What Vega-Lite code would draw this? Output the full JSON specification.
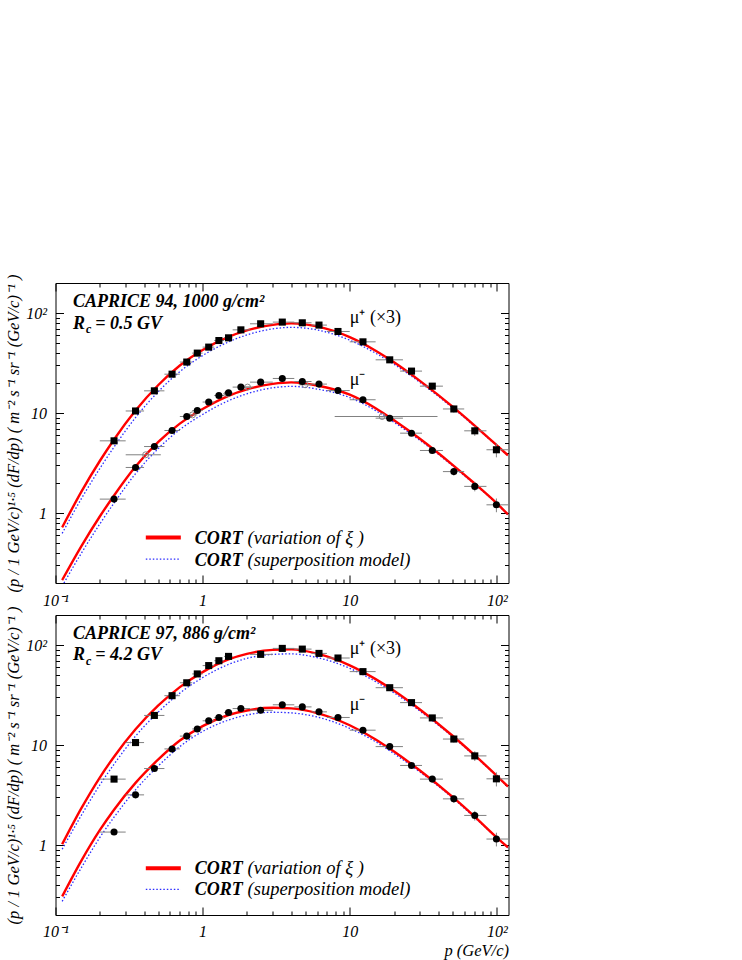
{
  "$schema": "https://vega.github.io/schema/vega-lite/v6.json",
  "padding": {"left": 4.5, "top": 271, "right": 5, "bottom": 5},
  "background": "white",
  "bounds": "flush",
  "spacing": 32,
  "config": {
    "view": {"stroke": "black", "strokeWidth": 1},
    "font": "Liberation Serif",
    "axis": {
      "domain": false, "grid": false, "tickColor": "black", "tickWidth": 1,
      "labelColor": "black", "labelFont": "Liberation Serif", "labelFontStyle": "italic", "labelFontSize": 16,
      "labelFlush": false, "labelOverlap": false, "labelBound": false,
      "titleFont": "Liberation Serif", "titleFontStyle": "italic", "titleFontWeight": "normal", "titleFontSize": 16.5, "titleColor": "black"
    }
  },
  "datasets": {
    "curves": [
      {"panel":"top","model":"red","series":"plus","p":0.111,"v":0.72},{"panel":"top","model":"red","series":"plus","p":0.15,"v":1.64},{"panel":"top","model":"red","series":"plus","p":0.2,"v":3.32},{"panel":"top","model":"red","series":"plus","p":0.25,"v":5.45},{"panel":"top","model":"red","series":"plus","p":0.35,"v":10.6},{"panel":"top","model":"red","series":"plus","p":0.5,"v":19.1},{"panel":"top","model":"red","series":"plus","p":0.7,"v":29.9},{"panel":"top","model":"red","series":"plus","p":1,"v":42.7},{"panel":"top","model":"red","series":"plus","p":1.5,"v":57.8},{"panel":"top","model":"red","series":"plus","p":2,"v":67.1},{"panel":"top","model":"red","series":"plus","p":3,"v":76.2},{"panel":"top","model":"red","series":"plus","p":4,"v":78.9},{"panel":"top","model":"red","series":"plus","p":6,"v":73.6},{"panel":"top","model":"red","series":"plus","p":10,"v":57.5},{"panel":"top","model":"red","series":"plus","p":15,"v":42.1},{"panel":"top","model":"red","series":"plus","p":20,"v":32.2},{"panel":"top","model":"red","series":"plus","p":30,"v":21.0},{"panel":"top","model":"red","series":"plus","p":50,"v":11.6},{"panel":"top","model":"red","series":"plus","p":70,"v":7.59},{"panel":"top","model":"red","series":"plus","p":100,"v":4.76},{"panel":"top","model":"red","series":"plus","p":119,"v":3.78},
      {"panel":"top","model":"blue","series":"plus","p":0.111,"v":0.627},{"panel":"top","model":"blue","series":"plus","p":0.15,"v":1.396},{"panel":"top","model":"blue","series":"plus","p":0.2,"v":2.79},{"panel":"top","model":"blue","series":"plus","p":0.25,"v":4.58},{"panel":"top","model":"blue","series":"plus","p":0.35,"v":9.02},{"panel":"top","model":"blue","series":"plus","p":0.5,"v":16.4},{"panel":"top","model":"blue","series":"plus","p":0.7,"v":26.0},{"panel":"top","model":"blue","series":"plus","p":1,"v":37.6},{"panel":"top","model":"blue","series":"plus","p":1.5,"v":51.5},{"panel":"top","model":"blue","series":"plus","p":2,"v":60.5},{"panel":"top","model":"blue","series":"plus","p":3,"v":69.5},{"panel":"top","model":"blue","series":"plus","p":4,"v":72.0},{"panel":"top","model":"blue","series":"plus","p":6,"v":67.9},{"panel":"top","model":"blue","series":"plus","p":10,"v":53.6},{"panel":"top","model":"blue","series":"plus","p":15,"v":39.7},{"panel":"top","model":"blue","series":"plus","p":20,"v":30.8},{"panel":"top","model":"blue","series":"plus","p":30,"v":20.3},{"panel":"top","model":"blue","series":"plus","p":50,"v":11.3},{"panel":"top","model":"blue","series":"plus","p":70,"v":7.45},{"panel":"top","model":"blue","series":"plus","p":100,"v":4.71},{"panel":"top","model":"blue","series":"plus","p":119,"v":3.74},
      {"panel":"top","model":"red","series":"minus","p":0.111,"v":0.214},{"panel":"top","model":"red","series":"minus","p":0.15,"v":0.468},{"panel":"top","model":"red","series":"minus","p":0.2,"v":0.925},{"panel":"top","model":"red","series":"minus","p":0.25,"v":1.5},{"panel":"top","model":"red","series":"minus","p":0.35,"v":2.92},{"panel":"top","model":"red","series":"minus","p":0.5,"v":5.15},{"panel":"top","model":"red","series":"minus","p":0.7,"v":7.85},{"panel":"top","model":"red","series":"minus","p":1,"v":11.0},{"panel":"top","model":"red","series":"minus","p":1.5,"v":14.9},{"panel":"top","model":"red","series":"minus","p":2,"v":17.3},{"panel":"top","model":"red","series":"minus","p":3,"v":19.6},{"panel":"top","model":"red","series":"minus","p":4,"v":20.3},{"panel":"top","model":"red","series":"minus","p":6,"v":18.9},{"panel":"top","model":"red","series":"minus","p":10,"v":15.3},{"panel":"top","model":"red","series":"minus","p":15,"v":11.2},{"panel":"top","model":"red","series":"minus","p":20,"v":8.47},{"panel":"top","model":"red","series":"minus","p":30,"v":5.53},{"panel":"top","model":"red","series":"minus","p":50,"v":3.04},{"panel":"top","model":"red","series":"minus","p":70,"v":2.0},{"panel":"top","model":"red","series":"minus","p":100,"v":1.25},{"panel":"top","model":"red","series":"minus","p":119,"v":0.97},
      {"panel":"top","model":"blue","series":"minus","p":0.111,"v":0.186},{"panel":"top","model":"blue","series":"minus","p":0.15,"v":0.398},{"panel":"top","model":"blue","series":"minus","p":0.2,"v":0.778},{"panel":"top","model":"blue","series":"minus","p":0.25,"v":1.26},{"panel":"top","model":"blue","series":"minus","p":0.35,"v":2.48},{"panel":"top","model":"blue","series":"minus","p":0.5,"v":4.43},{"panel":"top","model":"blue","series":"minus","p":0.7,"v":6.84},{"panel":"top","model":"blue","series":"minus","p":1,"v":9.69},{"panel":"top","model":"blue","series":"minus","p":1.5,"v":13.3},{"panel":"top","model":"blue","series":"minus","p":2,"v":15.6},{"panel":"top","model":"blue","series":"minus","p":3,"v":17.9},{"panel":"top","model":"blue","series":"minus","p":4,"v":18.5},{"panel":"top","model":"blue","series":"minus","p":6,"v":17.4},{"panel":"top","model":"blue","series":"minus","p":10,"v":14.3},{"panel":"top","model":"blue","series":"minus","p":15,"v":10.6},{"panel":"top","model":"blue","series":"minus","p":20,"v":8.09},{"panel":"top","model":"blue","series":"minus","p":30,"v":5.34},{"panel":"top","model":"blue","series":"minus","p":50,"v":2.97},{"panel":"top","model":"blue","series":"minus","p":70,"v":1.96},{"panel":"top","model":"blue","series":"minus","p":100,"v":1.24},{"panel":"top","model":"blue","series":"minus","p":119,"v":0.96},
      {"panel":"bottom","model":"red","series":"plus","p":0.111,"v":1.02},{"panel":"bottom","model":"red","series":"plus","p":0.15,"v":2.34},{"panel":"bottom","model":"red","series":"plus","p":0.2,"v":4.74},{"panel":"bottom","model":"red","series":"plus","p":0.25,"v":7.66},{"panel":"bottom","model":"red","series":"plus","p":0.35,"v":14.4},{"panel":"bottom","model":"red","series":"plus","p":0.5,"v":24.9},{"panel":"bottom","model":"red","series":"plus","p":0.7,"v":38.0},{"panel":"bottom","model":"red","series":"plus","p":1,"v":53.7},{"panel":"bottom","model":"red","series":"plus","p":1.5,"v":71.9},{"panel":"bottom","model":"red","series":"plus","p":2,"v":81.7},{"panel":"bottom","model":"red","series":"plus","p":3,"v":89.5},{"panel":"bottom","model":"red","series":"plus","p":4,"v":90.6},{"panel":"bottom","model":"red","series":"plus","p":6,"v":82.2},{"panel":"bottom","model":"red","series":"plus","p":10,"v":62.8},{"panel":"bottom","model":"red","series":"plus","p":15,"v":45.7},{"panel":"bottom","model":"red","series":"plus","p":20,"v":34.9},{"panel":"bottom","model":"red","series":"plus","p":30,"v":22.7},{"panel":"bottom","model":"red","series":"plus","p":50,"v":12.4},{"panel":"bottom","model":"red","series":"plus","p":70,"v":8.02},{"panel":"bottom","model":"red","series":"plus","p":100,"v":4.93},{"panel":"bottom","model":"red","series":"plus","p":119,"v":3.85},
      {"panel":"bottom","model":"blue","series":"plus","p":0.111,"v":0.909},{"panel":"bottom","model":"blue","series":"plus","p":0.15,"v":1.99},{"panel":"bottom","model":"blue","series":"plus","p":0.2,"v":3.99},{"panel":"bottom","model":"blue","series":"plus","p":0.25,"v":6.44},{"panel":"bottom","model":"blue","series":"plus","p":0.35,"v":12.3},{"panel":"bottom","model":"blue","series":"plus","p":0.5,"v":21.4},{"panel":"bottom","model":"blue","series":"plus","p":0.7,"v":33.1},{"panel":"bottom","model":"blue","series":"plus","p":1,"v":47.3},{"panel":"bottom","model":"blue","series":"plus","p":1.5,"v":64.1},{"panel":"bottom","model":"blue","series":"plus","p":2,"v":73.7},{"panel":"bottom","model":"blue","series":"plus","p":3,"v":80.7},{"panel":"bottom","model":"blue","series":"plus","p":4,"v":81.7},{"panel":"bottom","model":"blue","series":"plus","p":6,"v":75.0},{"panel":"bottom","model":"blue","series":"plus","p":10,"v":58.6},{"panel":"bottom","model":"blue","series":"plus","p":15,"v":43.1},{"panel":"bottom","model":"blue","series":"plus","p":20,"v":33.3},{"panel":"bottom","model":"blue","series":"plus","p":30,"v":21.9},{"panel":"bottom","model":"blue","series":"plus","p":50,"v":12.1},{"panel":"bottom","model":"blue","series":"plus","p":70,"v":7.88},{"panel":"bottom","model":"blue","series":"plus","p":100,"v":4.88},{"panel":"bottom","model":"blue","series":"plus","p":119,"v":3.81},
      {"panel":"bottom","model":"red","series":"minus","p":0.111,"v":0.307},{"panel":"bottom","model":"red","series":"minus","p":0.15,"v":0.7},{"panel":"bottom","model":"red","series":"minus","p":0.2,"v":1.41},{"panel":"bottom","model":"red","series":"minus","p":0.25,"v":2.26},{"panel":"bottom","model":"red","series":"minus","p":0.35,"v":4.19},{"panel":"bottom","model":"red","series":"minus","p":0.5,"v":7.19},{"panel":"bottom","model":"red","series":"minus","p":0.7,"v":11.1},{"panel":"bottom","model":"red","series":"minus","p":1,"v":15.5},{"panel":"bottom","model":"red","series":"minus","p":1.5,"v":20.0},{"panel":"bottom","model":"red","series":"minus","p":2,"v":22.2},{"panel":"bottom","model":"red","series":"minus","p":3,"v":23.6},{"panel":"bottom","model":"red","series":"minus","p":4,"v":23.3},{"panel":"bottom","model":"red","series":"minus","p":6,"v":20.9},{"panel":"bottom","model":"red","series":"minus","p":10,"v":15.8},{"panel":"bottom","model":"red","series":"minus","p":15,"v":11.4},{"panel":"bottom","model":"red","series":"minus","p":20,"v":8.61},{"panel":"bottom","model":"red","series":"minus","p":30,"v":5.57},{"panel":"bottom","model":"red","series":"minus","p":50,"v":3.03},{"panel":"bottom","model":"red","series":"minus","p":70,"v":1.95},{"panel":"bottom","model":"red","series":"minus","p":100,"v":1.19},{"panel":"bottom","model":"red","series":"minus","p":119,"v":0.95},
      {"panel":"bottom","model":"blue","series":"minus","p":0.111,"v":0.274},{"panel":"bottom","model":"blue","series":"minus","p":0.15,"v":0.596},{"panel":"bottom","model":"blue","series":"minus","p":0.2,"v":1.19},{"panel":"bottom","model":"blue","series":"minus","p":0.25,"v":1.9},{"panel":"bottom","model":"blue","series":"minus","p":0.35,"v":3.57},{"panel":"bottom","model":"blue","series":"minus","p":0.5,"v":6.19},{"panel":"bottom","model":"blue","series":"minus","p":0.7,"v":9.67},{"panel":"bottom","model":"blue","series":"minus","p":1,"v":13.7},{"panel":"bottom","model":"blue","series":"minus","p":1.5,"v":17.8},{"panel":"bottom","model":"blue","series":"minus","p":2,"v":20.0},{"panel":"bottom","model":"blue","series":"minus","p":3,"v":21.3},{"panel":"bottom","model":"blue","series":"minus","p":4,"v":21.0},{"panel":"bottom","model":"blue","series":"minus","p":6,"v":19.1},{"panel":"bottom","model":"blue","series":"minus","p":10,"v":14.7},{"panel":"bottom","model":"blue","series":"minus","p":15,"v":10.8},{"panel":"bottom","model":"blue","series":"minus","p":20,"v":8.22},{"panel":"bottom","model":"blue","series":"minus","p":30,"v":5.38},{"panel":"bottom","model":"blue","series":"minus","p":50,"v":2.96},{"panel":"bottom","model":"blue","series":"minus","p":70,"v":1.91},{"panel":"bottom","model":"blue","series":"minus","p":100,"v":1.18},{"panel":"bottom","model":"blue","series":"minus","p":119,"v":0.94}
    ],
    "pts": [
      {"panel":"top","series":"plus","p":0.25,"v":5.28,"plo":0.2,"phi":0.3},{"panel":"top","series":"plus","p":0.35,"v":10.5,"plo":0.3,"phi":0.4},{"panel":"top","series":"plus","p":0.47,"v":16.7,"plo":0.4,"phi":0.55},{"panel":"top","series":"plus","p":0.62,"v":24.5,"plo":0.55,"phi":0.7},{"panel":"top","series":"plus","p":0.78,"v":32.4,"plo":0.7,"phi":0.85},{"panel":"top","series":"plus","p":0.92,"v":39.8,"plo":0.85,"phi":1.0},{"panel":"top","series":"plus","p":1.1,"v":45.7,"plo":1.0,"phi":1.2},{"panel":"top","series":"plus","p":1.29,"v":53.2,"plo":1.2,"phi":1.4},{"panel":"top","series":"plus","p":1.5,"v":56.6,"plo":1.4,"phi":1.6},{"panel":"top","series":"plus","p":1.82,"v":68,"plo":1.6,"phi":2.1},{"panel":"top","series":"plus","p":2.48,"v":78.2,"plo":2.1,"phi":3.0},{"panel":"top","series":"plus","p":3.48,"v":81.3,"plo":3.0,"phi":4.2},{"panel":"top","series":"plus","p":4.76,"v":80,"plo":4.2,"phi":5.5},{"panel":"top","series":"plus","p":6.18,"v":75.9,"plo":5.5,"phi":7.0},{"panel":"top","series":"plus","p":8.32,"v":65.5,"plo":7.0,"phi":10},{"panel":"top","series":"plus","p":12.3,"v":51.6,"plo":10,"phi":15},{"panel":"top","series":"plus","p":18.7,"v":34.1,"plo":15,"phi":23},{"panel":"top","series":"plus","p":26.3,"v":26.3,"plo":22,"phi":31},{"panel":"top","series":"plus","p":36.4,"v":18.6,"plo":30,"phi":43,"vlo":17.5,"vhi":19.7},{"panel":"top","series":"plus","p":51,"v":11,"plo":43,"phi":60,"vlo":10.1,"vhi":11.9},{"panel":"top","series":"plus","p":70.8,"v":6.65,"plo":60,"phi":85,"vlo":5.92,"vhi":7.38},{"panel":"top","series":"plus","p":99.3,"v":4.3,"plo":85,"phi":120,"vlo":3.61,"vhi":4.99},
      {"panel":"top","series":"minus","p":0.25,"v":1.38,"plo":0.2,"phi":0.3},{"panel":"top","series":"minus","p":0.35,"v":2.86,"plo":0.3,"phi":0.4},{"panel":"top","series":"minus","p":0.47,"v":4.63,"plo":0.4,"phi":0.55},{"panel":"top","series":"minus","p":0.62,"v":6.7,"plo":0.55,"phi":0.7},{"panel":"top","series":"minus","p":0.78,"v":9.25,"plo":0.7,"phi":0.85},{"panel":"top","series":"minus","p":0.92,"v":10.6,"plo":0.85,"phi":1.0},{"panel":"top","series":"minus","p":1.1,"v":12.9,"plo":1.0,"phi":1.2},{"panel":"top","series":"minus","p":1.29,"v":15,"plo":1.2,"phi":1.4},{"panel":"top","series":"minus","p":1.5,"v":16,"plo":1.4,"phi":1.6},{"panel":"top","series":"minus","p":1.82,"v":18.2,"plo":1.6,"phi":2.1},{"panel":"top","series":"minus","p":2.48,"v":20.4,"plo":2.1,"phi":3.0},{"panel":"top","series":"minus","p":3.48,"v":22.2,"plo":3.0,"phi":4.2},{"panel":"top","series":"minus","p":4.76,"v":20.7,"plo":4.2,"phi":5.5},{"panel":"top","series":"minus","p":6.18,"v":19.5,"plo":5.5,"phi":7.0},{"panel":"top","series":"minus","p":8.32,"v":16.8,"plo":7.0,"phi":10},{"panel":"top","series":"minus","p":12.3,"v":13.6,"plo":10,"phi":15},{"panel":"top","series":"minus","p":18.7,"v":8.9,"plo":15,"phi":23},{"panel":"top","series":"minus","p":26.3,"v":6.3,"plo":22,"phi":31},{"panel":"top","series":"minus","p":36.4,"v":4.23,"plo":30,"phi":43,"vlo":3.98,"vhi":4.48},{"panel":"top","series":"minus","p":51,"v":2.6,"plo":43,"phi":60,"vlo":2.39,"vhi":2.81},{"panel":"top","series":"minus","p":70.8,"v":1.85,"plo":60,"phi":85,"vlo":1.65,"vhi":2.05},{"panel":"top","series":"minus","p":99.3,"v":1.21,"plo":85,"phi":120,"vlo":1.02,"vhi":1.4},
      {"panel":"top","series":"open","p":0.41,"v":3.83,"plo":0.3,"phi":0.52},{"panel":"top","series":"open","p":0.853,"v":9.6,"plo":0.8,"phi":0.92},{"panel":"top","series":"open","p":1.476,"v":15.6,"plo":1.38,"phi":1.58},{"panel":"top","series":"open","p":2.02,"v":18.2,"plo":1.85,"phi":2.2},{"panel":"top","series":"open","p":4.97,"v":19.2,"plo":4.5,"phi":5.5},{"panel":"top","series":"open","p":16.6,"v":9.25,"plo":7.9,"phi":39.5},
      {"panel":"bottom","series":"plus","p":0.25,"v":4.57,"plo":0.2,"phi":0.3},{"panel":"bottom","series":"plus","p":0.35,"v":10.6,"plo":0.3,"phi":0.4},{"panel":"bottom","series":"plus","p":0.47,"v":19.8,"plo":0.4,"phi":0.55},{"panel":"bottom","series":"plus","p":0.62,"v":31.2,"plo":0.55,"phi":0.7},{"panel":"bottom","series":"plus","p":0.78,"v":42,"plo":0.7,"phi":0.85},{"panel":"bottom","series":"plus","p":0.92,"v":51.5,"plo":0.85,"phi":1.0},{"panel":"bottom","series":"plus","p":1.1,"v":62.4,"plo":1.0,"phi":1.2},{"panel":"bottom","series":"plus","p":1.29,"v":69.8,"plo":1.2,"phi":1.4},{"panel":"bottom","series":"plus","p":1.5,"v":77.1,"plo":1.4,"phi":1.6},{"panel":"bottom","series":"plus","p":2.48,"v":80.8,"plo":2.1,"phi":3.0},{"panel":"bottom","series":"plus","p":3.48,"v":92.7,"plo":3.0,"phi":4.2},{"panel":"bottom","series":"plus","p":4.76,"v":91.2,"plo":4.2,"phi":5.5},{"panel":"bottom","series":"plus","p":6.18,"v":82.6,"plo":5.5,"phi":7.0},{"panel":"bottom","series":"plus","p":8.32,"v":74.3,"plo":7.0,"phi":10},{"panel":"bottom","series":"plus","p":12.3,"v":54.3,"plo":10,"phi":15},{"panel":"bottom","series":"plus","p":18.7,"v":37.5,"plo":15,"phi":23},{"panel":"bottom","series":"plus","p":26.3,"v":26.6,"plo":22,"phi":31},{"panel":"bottom","series":"plus","p":36.4,"v":18.7,"plo":30,"phi":43,"vlo":17.6,"vhi":19.8},{"panel":"bottom","series":"plus","p":51,"v":11.5,"plo":43,"phi":60,"vlo":10.6,"vhi":12.4},{"panel":"bottom","series":"plus","p":70.8,"v":7.8,"plo":60,"phi":85,"vlo":6.94,"vhi":8.66},{"panel":"bottom","series":"plus","p":99.3,"v":4.6,"plo":85,"phi":120,"vlo":3.86,"vhi":5.34},
      {"panel":"bottom","series":"minus","p":0.25,"v":1.35,"plo":0.2,"phi":0.3},{"panel":"bottom","series":"minus","p":0.35,"v":3.18,"plo":0.3,"phi":0.4},{"panel":"bottom","series":"minus","p":0.47,"v":5.83,"plo":0.4,"phi":0.55},{"panel":"bottom","series":"minus","p":0.62,"v":9.16,"plo":0.55,"phi":0.7},{"panel":"bottom","series":"minus","p":0.78,"v":12.3,"plo":0.7,"phi":0.85},{"panel":"bottom","series":"minus","p":0.92,"v":14.5,"plo":0.85,"phi":1.0},{"panel":"bottom","series":"minus","p":1.1,"v":17.5,"plo":1.0,"phi":1.2},{"panel":"bottom","series":"minus","p":1.29,"v":18.9,"plo":1.2,"phi":1.4},{"panel":"bottom","series":"minus","p":1.5,"v":21.2,"plo":1.4,"phi":1.6},{"panel":"bottom","series":"minus","p":1.82,"v":23.2,"plo":1.6,"phi":2.1},{"panel":"bottom","series":"minus","p":2.48,"v":22.3,"plo":2.1,"phi":3.0},{"panel":"bottom","series":"minus","p":3.48,"v":25.3,"plo":3.0,"phi":4.2},{"panel":"bottom","series":"minus","p":4.76,"v":24.1,"plo":4.2,"phi":5.5},{"panel":"bottom","series":"minus","p":6.18,"v":21.5,"plo":5.5,"phi":7.0},{"panel":"bottom","series":"minus","p":8.32,"v":18.9,"plo":7.0,"phi":10},{"panel":"bottom","series":"minus","p":12.3,"v":14.1,"plo":10,"phi":15},{"panel":"bottom","series":"minus","p":18.7,"v":9.66,"plo":15,"phi":23},{"panel":"bottom","series":"minus","p":26.3,"v":6.26,"plo":22,"phi":31},{"panel":"bottom","series":"minus","p":36.4,"v":4.57,"plo":30,"phi":43,"vlo":4.3,"vhi":4.84},{"panel":"bottom","series":"minus","p":51,"v":2.9,"plo":43,"phi":60,"vlo":2.67,"vhi":3.13},{"panel":"bottom","series":"minus","p":70.8,"v":1.98,"plo":60,"phi":85,"vlo":1.76,"vhi":2.2},{"panel":"bottom","series":"minus","p":99.3,"v":1.15,"plo":85,"phi":120,"vlo":0.97,"vhi":1.33}
    ],
    "legend": [
      {"panel":"top","model":"red","p1":0.411,"p2":0.711,"v":0.57},{"panel":"top","model":"blue","p1":0.411,"p2":0.711,"v":0.347},
      {"panel":"bottom","model":"red","p1":0.411,"p2":0.711,"v":0.587},{"panel":"bottom","model":"blue","p1":0.411,"p2":0.711,"v":0.36}
    ],
    "txt": [
      {"panel":"top","kind":"head","p":0.1315,"v":116,"text":"CAPRICE 94, 1000 g/cm²"},{"panel":"top","kind":"head","p":0.1315,"v":69.7,"text":"R"},{"panel":"top","kind":"sub","p":0.161,"v":63.1,"text":"c"},{"panel":"top","kind":"head","p":0.186,"v":69.7,"text":"= 0.5 GV"},
      {"panel":"top","kind":"mu","p":10,"v":79,"text":"μ⁺ (×3)"},{"panel":"top","kind":"mu","p":10,"v":19,"text":"μ⁻"},
      {"panel":"top","kind":"legB","p":0.885,"v":0.493,"text":"CORT"},{"panel":"top","kind":"legI","p":2.02,"v":0.493,"text":"(variation of  ξ )"},{"panel":"top","kind":"legB","p":0.885,"v":0.297,"text":"CORT"},{"panel":"top","kind":"legI","p":2.02,"v":0.297,"text":"(superposition model)"},
      {"panel":"bottom","kind":"head","p":0.1315,"v":116,"text":"CAPRICE 97, 886 g/cm²"},{"panel":"bottom","kind":"head","p":0.1315,"v":71,"text":"R"},{"panel":"bottom","kind":"sub","p":0.161,"v":63.4,"text":"c"},{"panel":"bottom","kind":"head","p":0.186,"v":71,"text":"= 4.2 GV"},
      {"panel":"bottom","kind":"mu","p":10,"v":81.4,"text":"μ⁺ (×3)"},{"panel":"bottom","kind":"mu","p":10,"v":22.3,"text":"μ⁻"},
      {"panel":"bottom","kind":"legB","p":0.885,"v":0.516,"text":"CORT"},{"panel":"bottom","kind":"legI","p":2.02,"v":0.516,"text":"(variation of  ξ )"},{"panel":"bottom","kind":"legB","p":0.885,"v":0.314,"text":"CORT"},{"panel":"bottom","kind":"legI","p":2.02,"v":0.314,"text":"(superposition model)"}
    ]
  },
  "vconcat": [
    {
      "width": 453, "height": 300,
      "encoding": {
        "x": {"field": "p", "type": "quantitative", "scale": {"type": "log", "domain": [0.1, 120], "nice": false}, "axis": null},
        "y": {"field": "v", "type": "quantitative", "scale": {"type": "log", "domain": [0.2, 200], "nice": false}, "axis": null}
      },
      "resolve": {"axis": {"x": "independent", "y": "independent"}},
      "layer": [
        {"data": {"name": "curves"}, "transform": [{"filter": "datum.panel=='top' && datum.model=='blue'"}],
         "mark": {"type": "line", "color": "#2b2bff", "strokeWidth": 1.3, "strokeDash": [1.5, 2], "clip": true, "interpolate": "monotone"},
         "encoding": {"detail": {"field": "series"},
           "x": {"field": "p", "type": "quantitative", "scale": {"type": "log", "domain": [0.1, 120], "nice": false},
                 "axis": {"orient": "top", "labels": false, "title": null, "values": [0.1,0.2,0.3,0.4,0.5,0.6,0.7,0.8,0.9,1,2,3,4,5,6,7,8,9,10,20,30,40,50,60,70,80,90,100],
                          "tickSize": {"condition": {"test": "datum.value==0.1||datum.value==1||datum.value==10||datum.value==100", "value": -8}, "value": -4}}},
           "y": {"field": "v", "type": "quantitative", "scale": {"type": "log", "domain": [0.2, 200], "nice": false},
                 "axis": {"orient": "right", "labels": false, "title": null, "values": [0.2,0.3,0.4,0.5,0.6,0.7,0.8,0.9,1,2,3,4,5,6,7,8,9,10,20,30,40,50,60,70,80,90,100,200],
                          "tickSize": {"condition": {"test": "datum.value==1||datum.value==10||datum.value==100", "value": -8}, "value": -4}}}}},
        {"data": {"name": "curves"}, "transform": [{"filter": "datum.panel=='top' && datum.model=='red'"}],
         "mark": {"type": "line", "color": "#ff0000", "strokeWidth": 2.4, "clip": true, "interpolate": "monotone"},
         "encoding": {"detail": {"field": "series"},
           "x": {"field": "p", "type": "quantitative", "scale": {"type": "log", "domain": [0.1, 120], "nice": false},
                 "axis": {"orient": "bottom", "title": null, "values": [0.1,0.2,0.3,0.4,0.5,0.6,0.7,0.8,0.9,1,2,3,4,5,6,7,8,9,10,20,30,40,50,60,70,80,90,100],
                          "labelExpr": "datum.value==0.1?'10⁻¹':datum.value==1?'1':datum.value==10?'10':datum.value==100?'10²':''",
                          "labelPadding": 17,
                          "tickSize": {"condition": {"test": "datum.value==0.1||datum.value==1||datum.value==10||datum.value==100", "value": -8}, "value": -4}}},
           "y": {"field": "v", "type": "quantitative", "scale": {"type": "log", "domain": [0.2, 200], "nice": false},
                 "axis": {"orient": "left", "title": "(p / 1 GeV/c)¹·⁵ (dF/dp)  ( m⁻² s⁻¹ sr⁻¹ (GeV/c)⁻¹ )", "titlePadding": 4,
                          "values": [0.2,0.3,0.4,0.5,0.6,0.7,0.8,0.9,1,2,3,4,5,6,7,8,9,10,20,30,40,50,60,70,80,90,100,200],
                          "labelExpr": "datum.value==100?'10²':datum.value==10?'10':datum.value==1?'1':''",
                          "labelPadding": 17,
                          "tickSize": {"condition": {"test": "datum.value==1||datum.value==10||datum.value==100", "value": -8}, "value": -4}}}}},
        {"data": {"name": "pts"}, "transform": [{"filter": "datum.panel=='top'"}],
         "mark": {"type": "rule", "color": "#808080", "strokeWidth": 1, "clip": true},
         "encoding": {"x": {"field": "plo", "type": "quantitative", "scale": {"type": "log", "domain": [0.1, 120], "nice": false}, "axis": null}, "x2": {"field": "phi"}}},
        {"data": {"name": "pts"}, "transform": [{"filter": "datum.panel=='top' && isValid(datum.vlo)"}],
         "mark": {"type": "rule", "color": "#808080", "strokeWidth": 1, "clip": true},
         "encoding": {"y": {"field": "vlo", "type": "quantitative", "scale": {"type": "log", "domain": [0.2, 200], "nice": false}, "axis": null}, "y2": {"field": "vhi"}}},
        {"data": {"name": "pts"}, "transform": [{"filter": "datum.panel=='top' && datum.series=='open'"}],
         "mark": {"type": "point", "shape": "circle", "filled": false, "color": "#888888", "size": 36, "strokeWidth": 1, "opacity": 1}},
        {"data": {"name": "pts"}, "transform": [{"filter": "datum.panel=='top' && datum.series=='plus'"}],
         "mark": {"type": "point", "shape": "square", "filled": true, "color": "black", "size": 50, "opacity": 1}},
        {"data": {"name": "pts"}, "transform": [{"filter": "datum.panel=='top' && datum.series=='minus'"}],
         "mark": {"type": "point", "shape": "circle", "filled": true, "color": "black", "size": 50, "opacity": 1}},
        {"data": {"name": "legend"}, "transform": [{"filter": "datum.panel=='top' && datum.model=='red'"}],
         "mark": {"type": "rule", "color": "#ff0000", "strokeWidth": 4},
         "encoding": {"x": {"field": "p1", "type": "quantitative", "scale": {"type": "log", "domain": [0.1, 120], "nice": false}, "axis": null}, "x2": {"field": "p2"}}},
        {"data": {"name": "legend"}, "transform": [{"filter": "datum.panel=='top' && datum.model=='blue'"}],
         "mark": {"type": "rule", "color": "#2b2bff", "strokeWidth": 1.3, "strokeDash": [1.5, 2]},
         "encoding": {"x": {"field": "p1", "type": "quantitative", "scale": {"type": "log", "domain": [0.1, 120], "nice": false}, "axis": null}, "x2": {"field": "p2"}}},
        {"data": {"name": "txt"}, "transform": [{"filter": "datum.panel=='top' && datum.kind=='head'"}],
         "mark": {"type": "text", "font": "Liberation Serif", "fontStyle": "italic", "fontWeight": "bold", "fontSize": 18, "align": "left", "baseline": "alphabetic", "color": "black"},
         "encoding": {"text": {"field": "text"}}},
        {"data": {"name": "txt"}, "transform": [{"filter": "datum.panel=='top' && datum.kind=='sub'"}],
         "mark": {"type": "text", "font": "Liberation Serif", "fontStyle": "italic", "fontWeight": "bold", "fontSize": 12, "align": "left", "baseline": "alphabetic", "color": "black"},
         "encoding": {"text": {"field": "text"}}},
        {"data": {"name": "txt"}, "transform": [{"filter": "datum.panel=='top' && datum.kind=='mu'"}],
         "mark": {"type": "text", "font": "Liberation Serif", "fontStyle": "normal", "fontWeight": "normal", "fontSize": 18, "align": "left", "baseline": "alphabetic", "color": "black"},
         "encoding": {"text": {"field": "text"}}},
        {"data": {"name": "txt"}, "transform": [{"filter": "datum.panel=='top' && datum.kind=='legB'"}],
         "mark": {"type": "text", "font": "Liberation Serif", "fontStyle": "italic", "fontWeight": "bold", "fontSize": 18, "align": "left", "baseline": "alphabetic", "color": "black"},
         "encoding": {"text": {"field": "text"}}},
        {"data": {"name": "txt"}, "transform": [{"filter": "datum.panel=='top' && datum.kind=='legI'"}],
         "mark": {"type": "text", "font": "Liberation Serif", "fontStyle": "italic", "fontWeight": "normal", "fontSize": 18.5, "align": "left", "baseline": "alphabetic", "color": "black"},
         "encoding": {"text": {"field": "text"}}}
      ]
    },
    {
      "width": 453, "height": 300,
      "encoding": {
        "x": {"field": "p", "type": "quantitative", "scale": {"type": "log", "domain": [0.1, 120], "nice": false}, "axis": null},
        "y": {"field": "v", "type": "quantitative", "scale": {"type": "log", "domain": [0.2, 200], "nice": false}, "axis": null}
      },
      "resolve": {"axis": {"x": "independent", "y": "independent"}},
      "layer": [
        {"data": {"name": "curves"}, "transform": [{"filter": "datum.panel=='bottom' && datum.model=='blue'"}],
         "mark": {"type": "line", "color": "#2b2bff", "strokeWidth": 1.3, "strokeDash": [1.5, 2], "clip": true, "interpolate": "monotone"},
         "encoding": {"detail": {"field": "series"},
           "x": {"field": "p", "type": "quantitative", "scale": {"type": "log", "domain": [0.1, 120], "nice": false},
                 "axis": {"orient": "top", "labels": false, "title": null, "values": [0.1,0.2,0.3,0.4,0.5,0.6,0.7,0.8,0.9,1,2,3,4,5,6,7,8,9,10,20,30,40,50,60,70,80,90,100],
                          "tickSize": {"condition": {"test": "datum.value==0.1||datum.value==1||datum.value==10||datum.value==100", "value": -8}, "value": -4}}},
           "y": {"field": "v", "type": "quantitative", "scale": {"type": "log", "domain": [0.2, 200], "nice": false},
                 "axis": {"orient": "right", "labels": false, "title": null, "values": [0.2,0.3,0.4,0.5,0.6,0.7,0.8,0.9,1,2,3,4,5,6,7,8,9,10,20,30,40,50,60,70,80,90,100,200],
                          "tickSize": {"condition": {"test": "datum.value==1||datum.value==10||datum.value==100", "value": -8}, "value": -4}}}}},
        {"data": {"name": "curves"}, "transform": [{"filter": "datum.panel=='bottom' && datum.model=='red'"}],
         "mark": {"type": "line", "color": "#ff0000", "strokeWidth": 2.4, "clip": true, "interpolate": "monotone"},
         "encoding": {"detail": {"field": "series"},
           "x": {"field": "p", "type": "quantitative", "scale": {"type": "log", "domain": [0.1, 120], "nice": false},
                 "axis": {"orient": "bottom", "title": "p (GeV/c)", "titleAnchor": "end", "titleAlign": "right", "titleBaseline": "alphabetic", "titleY": 40, "values": [0.1,0.2,0.3,0.4,0.5,0.6,0.7,0.8,0.9,1,2,3,4,5,6,7,8,9,10,20,30,40,50,60,70,80,90,100],
                          "labelExpr": "datum.value==0.1?'10⁻¹':datum.value==1?'1':datum.value==10?'10':datum.value==100?'10²':''",
                          "labelPadding": 16,
                          "tickSize": {"condition": {"test": "datum.value==0.1||datum.value==1||datum.value==10||datum.value==100", "value": -8}, "value": -4}}},
           "y": {"field": "v", "type": "quantitative", "scale": {"type": "log", "domain": [0.2, 200], "nice": false},
                 "axis": {"orient": "left", "title": "(p / 1 GeV/c)¹·⁵ (dF/dp)  ( m⁻² s⁻¹ sr⁻¹ (GeV/c)⁻¹ )", "titlePadding": 4,
                          "values": [0.2,0.3,0.4,0.5,0.6,0.7,0.8,0.9,1,2,3,4,5,6,7,8,9,10,20,30,40,50,60,70,80,90,100,200],
                          "labelExpr": "datum.value==100?'10²':datum.value==10?'10':datum.value==1?'1':''",
                          "labelPadding": 17,
                          "tickSize": {"condition": {"test": "datum.value==1||datum.value==10||datum.value==100", "value": -8}, "value": -4}}}}},
        {"data": {"name": "pts"}, "transform": [{"filter": "datum.panel=='bottom'"}],
         "mark": {"type": "rule", "color": "#808080", "strokeWidth": 1, "clip": true},
         "encoding": {"x": {"field": "plo", "type": "quantitative", "scale": {"type": "log", "domain": [0.1, 120], "nice": false}, "axis": null}, "x2": {"field": "phi"}}},
        {"data": {"name": "pts"}, "transform": [{"filter": "datum.panel=='bottom' && isValid(datum.vlo)"}],
         "mark": {"type": "rule", "color": "#808080", "strokeWidth": 1, "clip": true},
         "encoding": {"y": {"field": "vlo", "type": "quantitative", "scale": {"type": "log", "domain": [0.2, 200], "nice": false}, "axis": null}, "y2": {"field": "vhi"}}},
        {"data": {"name": "pts"}, "transform": [{"filter": "datum.panel=='bottom' && datum.series=='plus'"}],
         "mark": {"type": "point", "shape": "square", "filled": true, "color": "black", "size": 50, "opacity": 1}},
        {"data": {"name": "pts"}, "transform": [{"filter": "datum.panel=='bottom' && datum.series=='minus'"}],
         "mark": {"type": "point", "shape": "circle", "filled": true, "color": "black", "size": 50, "opacity": 1}},
        {"data": {"name": "legend"}, "transform": [{"filter": "datum.panel=='bottom' && datum.model=='red'"}],
         "mark": {"type": "rule", "color": "#ff0000", "strokeWidth": 4},
         "encoding": {"x": {"field": "p1", "type": "quantitative", "scale": {"type": "log", "domain": [0.1, 120], "nice": false}, "axis": null}, "x2": {"field": "p2"}}},
        {"data": {"name": "legend"}, "transform": [{"filter": "datum.panel=='bottom' && datum.model=='blue'"}],
         "mark": {"type": "rule", "color": "#2b2bff", "strokeWidth": 1.3, "strokeDash": [1.5, 2]},
         "encoding": {"x": {"field": "p1", "type": "quantitative", "scale": {"type": "log", "domain": [0.1, 120], "nice": false}, "axis": null}, "x2": {"field": "p2"}}},
        {"data": {"name": "txt"}, "transform": [{"filter": "datum.panel=='bottom' && datum.kind=='head'"}],
         "mark": {"type": "text", "font": "Liberation Serif", "fontStyle": "italic", "fontWeight": "bold", "fontSize": 18, "align": "left", "baseline": "alphabetic", "color": "black"},
         "encoding": {"text": {"field": "text"}}},
        {"data": {"name": "txt"}, "transform": [{"filter": "datum.panel=='bottom' && datum.kind=='sub'"}],
         "mark": {"type": "text", "font": "Liberation Serif", "fontStyle": "italic", "fontWeight": "bold", "fontSize": 12, "align": "left", "baseline": "alphabetic", "color": "black"},
         "encoding": {"text": {"field": "text"}}},
        {"data": {"name": "txt"}, "transform": [{"filter": "datum.panel=='bottom' && datum.kind=='mu'"}],
         "mark": {"type": "text", "font": "Liberation Serif", "fontStyle": "normal", "fontWeight": "normal", "fontSize": 18, "align": "left", "baseline": "alphabetic", "color": "black"},
         "encoding": {"text": {"field": "text"}}},
        {"data": {"name": "txt"}, "transform": [{"filter": "datum.panel=='bottom' && datum.kind=='legB'"}],
         "mark": {"type": "text", "font": "Liberation Serif", "fontStyle": "italic", "fontWeight": "bold", "fontSize": 18, "align": "left", "baseline": "alphabetic", "color": "black"},
         "encoding": {"text": {"field": "text"}}},
        {"data": {"name": "txt"}, "transform": [{"filter": "datum.panel=='bottom' && datum.kind=='legI'"}],
         "mark": {"type": "text", "font": "Liberation Serif", "fontStyle": "italic", "fontWeight": "normal", "fontSize": 18.5, "align": "left", "baseline": "alphabetic", "color": "black"},
         "encoding": {"text": {"field": "text"}}}
      ]
    }
  ]
}
